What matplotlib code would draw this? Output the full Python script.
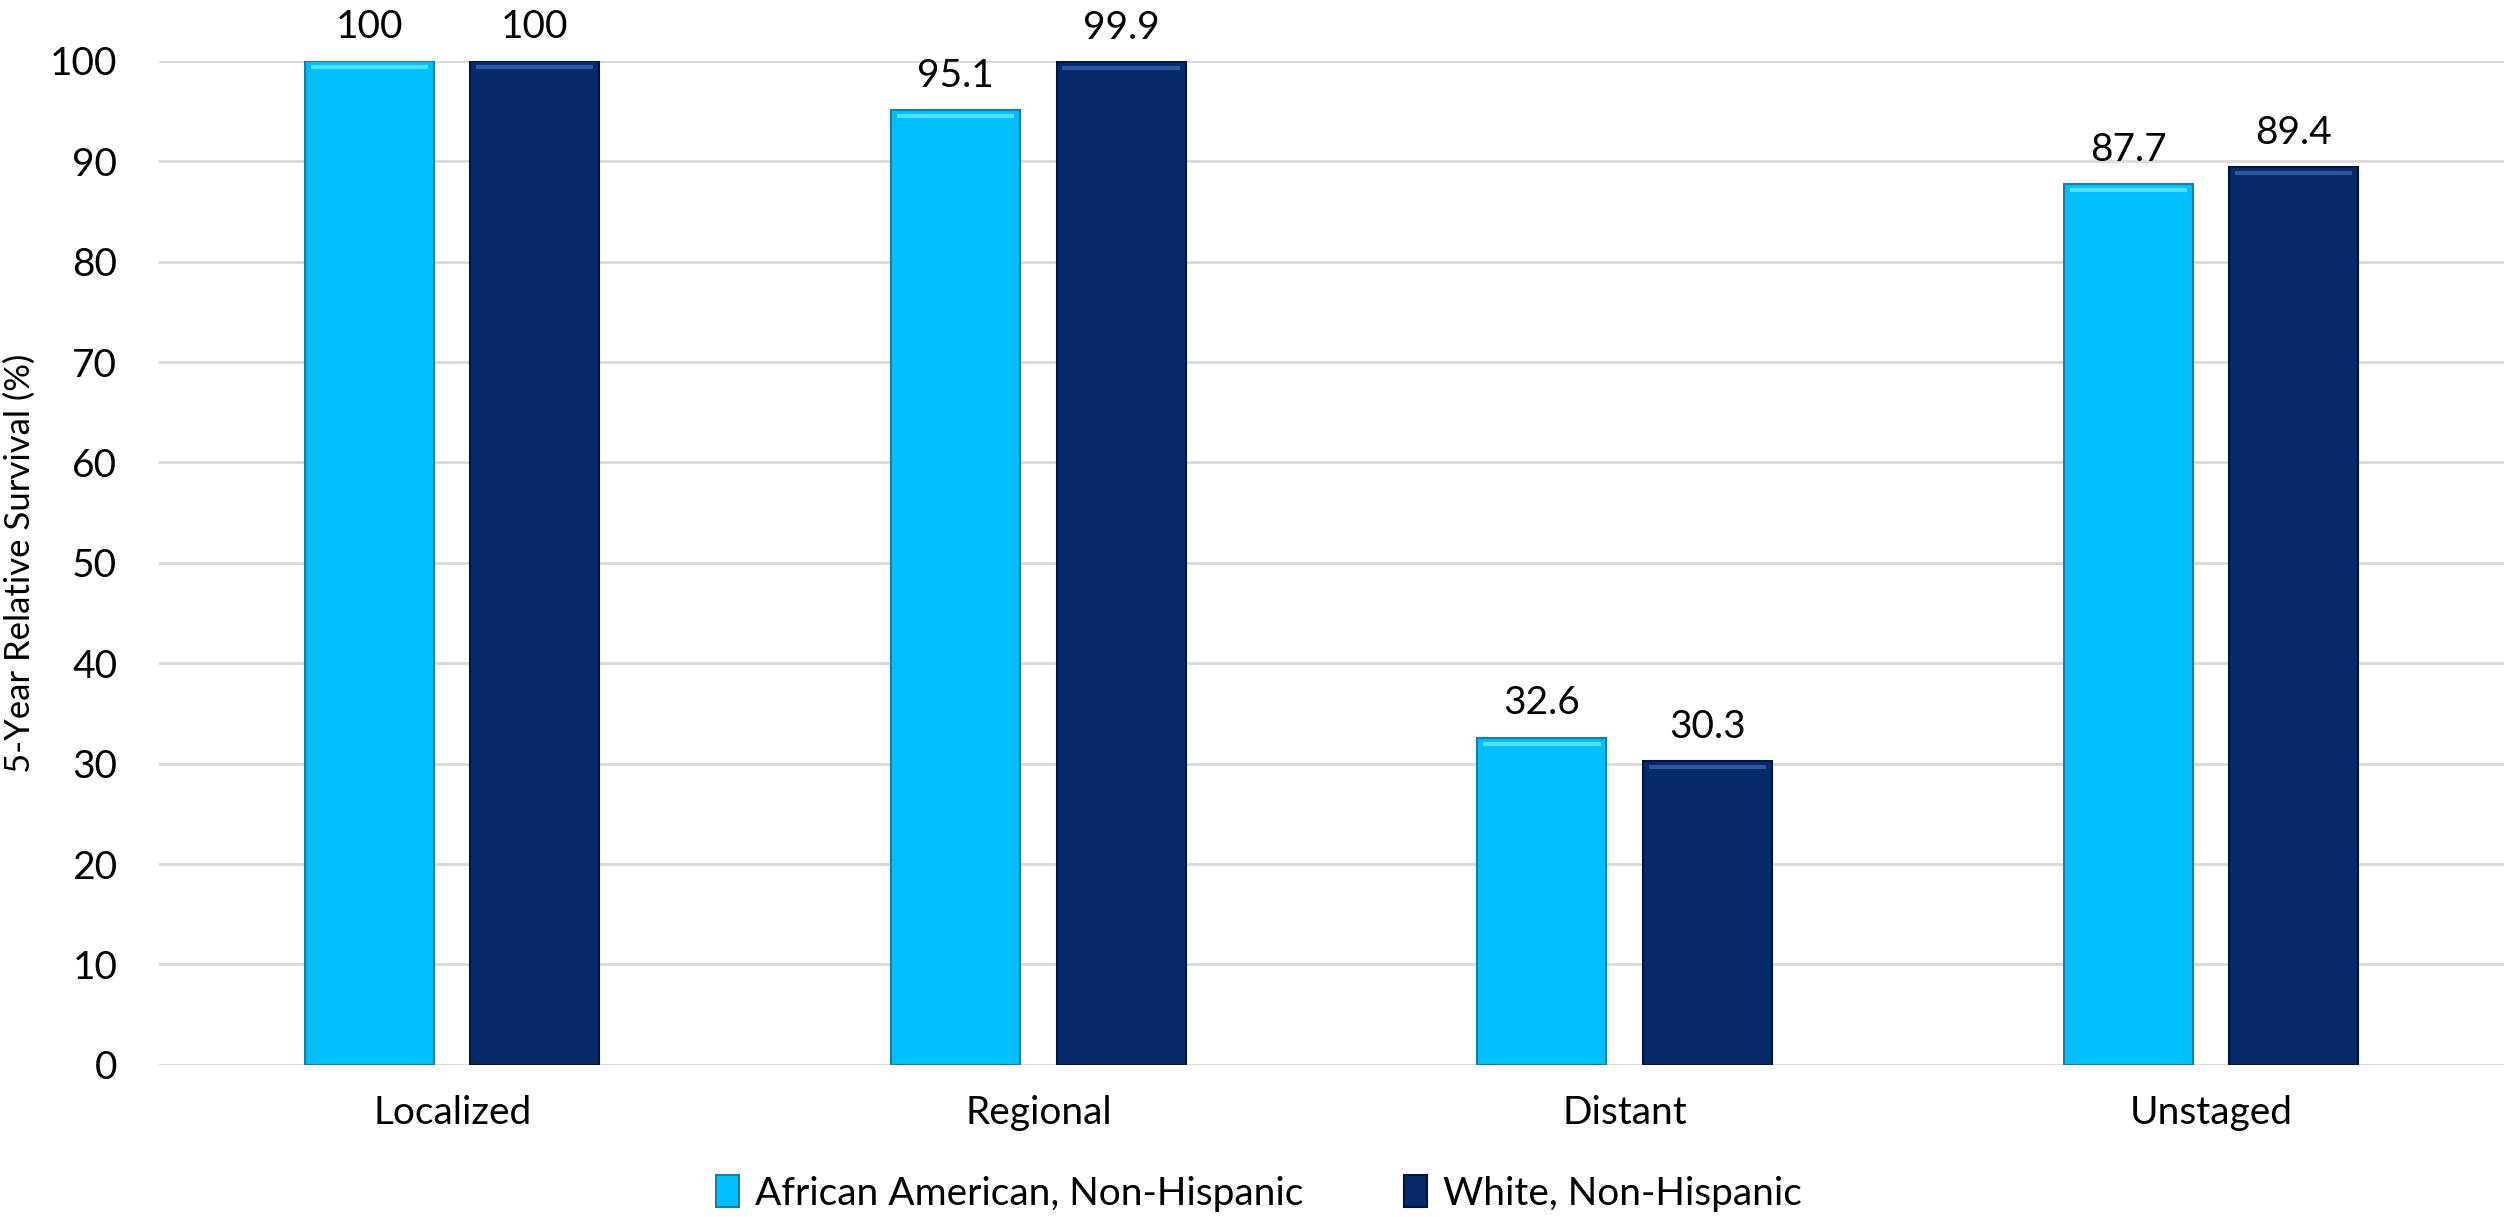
import matplotlib.pyplot as plt
import numpy as np

# 5-year relative survival by stage
stages = ["Localized", "Regional", "Distant", "Unstaged"]
african_american = [100, 95.1, 32.6, 87.7]
white = [100, 99.9, 30.3, 89.4]
series_names = ["African American, Non-Hispanic", "White, Non-Hispanic"]

plt.rcParams['font.family'] = ['Lato', 'DejaVu Sans']

light = '#00BFFB'
dark = '#062A6A'

fig = plt.figure(figsize=(25.04, 12.17), dpi=100)
ax = fig.add_axes([0.0635, 0.125, 0.9365, 0.825])

x = np.arange(len(stages))
w = 0.22
off = 0.141

b1 = ax.bar(x - off, african_american, w, color=light, edgecolor='#1a7fa8', linewidth=1.5,
            label=series_names[0], zorder=3)
b2 = ax.bar(x + off, white, w, color=dark, edgecolor='#02163d', linewidth=1.5,
            label=series_names[1], zorder=3)

# thin highlight near the top of each bar
for bars, hl in ((b1, '#4fe0ff'), (b2, '#2d55a0')):
    for r in bars:
        h = r.get_height()
        ax.plot([r.get_x() + 0.01, r.get_x() + r.get_width() - 0.01], [h - 0.6, h - 0.6],
                color=hl, lw=3, zorder=4, solid_capstyle='butt')

for bars in (b1, b2):
    for r in bars:
        h = r.get_height()
        ax.text(r.get_x() + r.get_width() / 2, h + 1.6, f"{h:g}", ha='center', va='bottom',
                fontsize=28, clip_on=False)

ax.set_xlim(-0.5, 3.5)
ax.set_ylim(0, 100)
ax.set_yticks(range(0, 101, 10))
ax.set_xticks(x)
ax.set_xticklabels(stages)
ax.tick_params(axis='both', length=0, labelsize=28)
ax.tick_params(axis='y', pad=30)
ax.tick_params(axis='x', pad=22)
ax.grid(axis='y', color='#d9d9d9', linewidth=2, zorder=0)
for s in ax.spines.values():
    s.set_visible(False)

fig.text(0.008, 0.125 + 0.825 / 2, "5-Year Relative Survival (%)", rotation=90,
         ha='center', va='center', fontsize=25)

ax.legend(loc='center', bbox_to_anchor=(0.469, -0.128), ncol=2, frameon=False,
          fontsize=28, handlelength=0.6, handleheight=0.9, handletextpad=0.4,
          columnspacing=2.6)

fig.savefig("out.png", dpi=100)
